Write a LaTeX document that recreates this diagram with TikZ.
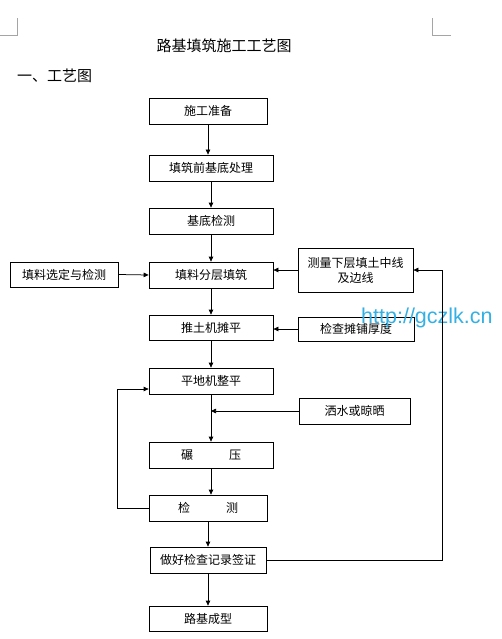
\documentclass[tikz,border=0pt]{standalone}
\usepackage{fontspec}
\newfontfamily\cjk{Noto Sans CJK SC}
\newfontfamily\wmfont{Liberation Sans}
\usetikzlibrary{arrows.meta}
\definecolor{marca}{RGB}{51,176,228}
\definecolor{esquina}{RGB}{165,165,165}
\tikzset{
  paso/.style={draw,line width=0.75pt,inner sep=0pt,align=center,font=\cjk\fontsize{12}{15}\selectfont},
  flecha/.style={line width=0.75pt,->},
}
\begin{document}
\begin{tikzpicture}[x=1pt,y=-1pt,>={Triangle[length=5pt,width=4.5pt]}]
                \useasboundingbox (0,0) rectangle (501,639);
                \draw[esquina,line width=0.75pt] (0,35) -- (17,35) -- (17,18); % esquina izq.
                \draw[esquina,line width=0.75pt] (451,35) -- (432,35) -- (432,18); % esquina der.
                \node (titulo) at (224,45.5) {\cjk\fontsize{15}{18}\selectfont 路基填筑施工工艺图};
                \node[anchor=west,inner sep=0pt] (seccion) at (17,76) {\cjk\fontsize{15}{18}\selectfont 一、工艺图};
                % columna central
                \node[paso,minimum width=118pt,minimum height=26pt] (prep) at (208,111) {施工准备};
                \node[paso,minimum width=124pt,minimum height=26pt] (base) at (211,168) {填筑前基底处理};
                \node[paso,minimum width=124pt,minimum height=26pt] (cbase) at (211,221) {基底检测};
                \node[paso,minimum width=124pt,minimum height=26pt] (fill) at (211,275) {填料分层填筑};
                \node[paso,minimum width=124pt,minimum height=25pt] (push) at (211,327.5) {推土机摊平};
                \node[paso,minimum width=124pt,minimum height=26pt] (grade) at (211,381) {平地机整平};
                \node[paso,minimum width=124pt,minimum height=26pt] (roll) at (211,455) {碾\hspace{3em}压};
                \node[paso,minimum width=118pt,minimum height=26pt] (test) at (208,508) {检\hspace{3em}测};
                \node[paso,minimum width=116pt,minimum height=26pt] (rec) at (208,560) {做好检查记录签证};
                \node[paso,minimum width=118pt,minimum height=25pt] (done) at (208,618.5) {路基成型};
                % cajas laterales
                \node[paso,minimum width=108pt,minimum height=25pt] (sel) at (64,274.5) {填料选定与检测};
                \node[paso,minimum width=115pt,minimum height=44pt] (meas) at (355.5,270) {测量下层填土中线\\及边线};
                \node[paso,minimum width=116pt,minimum height=24pt] (thick) at (356,329) {检查摊铺厚度};
                \node[paso,minimum width=111pt,minimum height=26pt] (water) at (354.5,411) {洒水或晾晒};
                \node[anchor=base west,inner sep=0pt,text=marca] (web) at (361,323) {\wmfont\fontsize{21.5}{25}\selectfont http://gczlk.cn};
                % flechas
                \draw[flecha] (prep.south) -- (prep.south |- base.north);
                \draw[flecha] (base.south) -- (cbase.north);
                \draw[flecha] (cbase.south) -- (fill.north);
                \draw[flecha] (fill.south) -- (push.north);
                \draw[flecha] (push.south) -- (grade.north);
                \draw[flecha] (grade.south) -- (roll.north);
                \draw[flecha] (roll.south) -- (roll.south |- test.north);
                \draw[flecha] (test.south) -- (rec.north);
                \draw[flecha] (rec.south) -- (done.north);
                \draw[flecha] (sel.east) -- (fill.west);
                \draw[flecha] (meas.west) -- (meas.west -| fill.east);
                \draw[flecha] (thick.west) -- (thick.west -| push.east);
                \draw[flecha] (water.west) -- (water.west -| grade.south);
                \draw[flecha] (test.west) -- ++(-31,0) |- ([yshift=-8pt]grade.west); % lazo izq.
                \draw[flecha] (rec.east) -- ++(176,0) |- (meas.east); % lazo der.
            \end{tikzpicture}
\end{document}
